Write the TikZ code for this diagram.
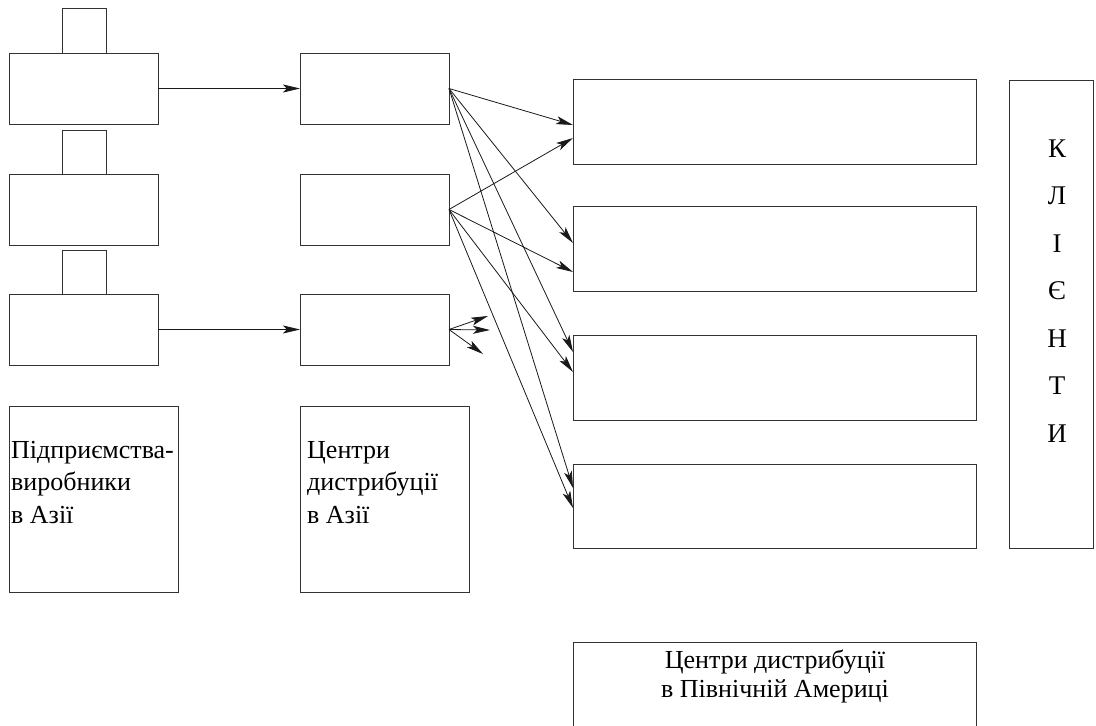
\documentclass[tikz,border=0pt]{standalone}
\usepackage{fontspec}
\setmainfont{Liberation Serif}
\usetikzlibrary{arrows.meta,calc}
\begin{document}
\begin{tikzpicture}[x=1pt,y=-1pt,
  box/.style={draw=black!80, line width=0.9pt, inner sep=0pt, outer sep=0pt, rectangle},
  arr/.style={draw=black!90, line width=0.8pt, -{Stealth[length=17pt,width=8pt,inset=4pt]}},
  lbl/.style={font=\fontsize{26}{32.5}\selectfont, align=left, anchor=base west, inner sep=0pt}]
\clip (0,0) rectangle (1096,726);
% factories
\node[box, minimum width=44pt, minimum height=45pt] (c1) at (84,30.5) {};
\node[box, minimum width=44pt, minimum height=44pt] (c2) at (84,152) {};
\node[box, minimum width=44pt, minimum height=44pt] (c3) at (84,272) {};
\node[box, fill=white, minimum width=149pt, minimum height=71pt] (f1) at (83.5,88.5) {};
\node[box, fill=white, minimum width=149pt, minimum height=71pt] (f2) at (83.5,209.5) {};
\node[box, fill=white, minimum width=149pt, minimum height=71pt] (f3) at (83.5,329.5) {};
% Asian DCs
\node[box, minimum width=149pt, minimum height=71pt] (d1) at (374.5,88.5) {};
\node[box, minimum width=149pt, minimum height=71pt] (d2) at (374.5,209.5) {};
\node[box, minimum width=149pt, minimum height=71pt] (d3) at (374.5,329.5) {};
% NA DCs
\node[box, minimum width=403pt, minimum height=85pt] (n1) at (774.5,121.5) {};
\node[box, minimum width=403pt, minimum height=85pt] (n2) at (774.5,248.5) {};
\node[box, minimum width=403pt, minimum height=85pt] (n3) at (774.5,377.5) {};
\node[box, minimum width=403pt, minimum height=84pt] (n4) at (774.5,506) {};
% clients
\node[box, minimum width=84pt, minimum height=468pt] (cl) at (1051,314) {};
\node[font=\fontsize{27}{47.5}\selectfont, align=center, anchor=base, inner sep=0pt] (clt) at (1057,442) {К\\Л\\І\\Є\\Н\\Т\\И};
% label boxes
\node[box, minimum width=169pt, minimum height=186pt] (lf) at (93.5,499) {};
\node[lbl] (lft) at (11,523) {Підприємства-\\виробники\\в Азії};
\node[box, minimum width=169pt, minimum height=186pt] (ld) at (384.5,499) {};
\node[lbl] (ldt) at (307,523) {Центри\\дистрибуції\\в Азії};
\node[box, minimum width=403pt, minimum height=98pt] (ln) at (774.5,691) {};
\node[font=\fontsize{26}{29}\selectfont, align=center, anchor=base, inner sep=0pt] (lnt) at (775,697) {Центри дистрибуції\\в Північній Америці};
% arrows factories -> DCs
\draw[arr] (f1.east) -- (d1.west);
\draw[arr] (f3.east) -- (d3.west);
% DC1
\draw[arr] (d1.east) -- ([yshift=-3.5pt]n1.west);
\draw[arr] (d1.east) -- ([yshift=5.5pt]n2.west);
\draw[arr] (d1.east) -- ([yshift=25.5pt]n3.west);
\draw[arr] (d1.east) -- ([yshift=18pt]n4.west);
% DC2
\draw[arr] (d2.east) -- ([yshift=-16.5pt]n1.west);
\draw[arr] (d2.east) -- ([yshift=-23.5pt]n2.west);
\draw[arr] (d2.east) -- ([yshift=5.5pt]n3.west);
\draw[arr] (d2.east) -- ([yshift=-2pt]n4.west);
% DC3 short arrows
\coordinate (s1) at (488,316);
\coordinate (s2) at (490,330);
\coordinate (s3) at (483,354);
\draw[arr] (d3.east) -- (s1);
\draw[arr] (d3.east) -- (s2);
\draw[arr] (d3.east) -- (s3);
\end{tikzpicture}
\end{document}
